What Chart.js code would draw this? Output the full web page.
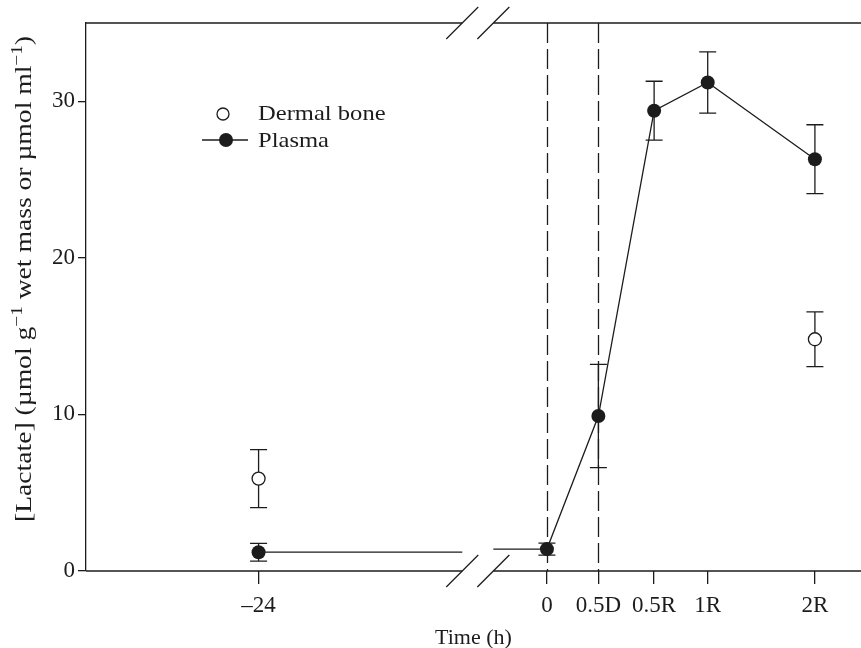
<!DOCTYPE html>
<html>
<head>
<meta charset="utf-8">
<script src="https://cdn.jsdelivr.net/npm/chart.js@4.4.1/dist/chart.umd.min.js"></script>
<style>
  body { margin: 0; background: #fff; }
  canvas { display: block; }
</style>
</head>
<body>
<canvas id="chart" width="861" height="648"></canvas>
<script>
// Time points (x positions on the compressed time axis) and their labels
const tickLabels = ["\u201324", "0", "0.5D", "0.5R", "1R", "2R"]
const xPos = [-2.69, 0, 0.48, 1.0, 1.5, 2.5]

// Plasma lactate, mean and error
const plasma = [1.2, 1.4, 9.9, 29.4, 31.2, 26.3]
const plasmaErr = [0.57, 0.38, 3.3, 1.88, 1.95, 2.2]

// Dermal bone lactate, only at -24 and 2R
const dermalIdx = [0, 5]
const dermal = [5.9, 14.8]
const dermalErr = [1.85, 1.75]

const yTicks = [0, 10, 20, 30]
const breakX = [-0.79, -0.50]   // axis break (left, right)
const dashedAt = [1, 2]         // vertical dashed lines at "0" and "0.5D"

const INK = "#1c1c1c"
const FONT = "'Liberation Serif', 'Times New Roman', serif"

const plasmaPoints = plasma.map((v, i) => ({ x: xPos[i], y: v }))
const dermalPoints = dermal.map((v, i) => ({ x: xPos[dermalIdx[i]], y: v }))
const plasmaLine = [
  { x: xPos[0], y: plasma[0] },
  { x: breakX[0], y: plasma[0] },
  { x: breakX[0], y: null },
  { x: breakX[1], y: plasma[1] },
  ...plasmaPoints.slice(1)
]

// y title pieces, [text, superscript?]
const yTitle = [
  ["[Lactate] (\u00b5mol g", false],
  ["\u22121", true],
  [" wet mass or \u00b5mol ml", false],
  ["\u22121", true],
  [")", false]
]

const decor = {
  id: "decor",
  beforeDatasetsDraw(chart) {
    const { ctx, scales: { x, y } } = chart
    const area = chart.chartArea
    ctx.save()
    ctx.strokeStyle = INK
    ctx.lineWidth = 1.3

    // dashed vertical lines
    ctx.setLineDash([20, 6])
    dashedAt.forEach(i => {
      const px = Math.round(x.getPixelForValue(xPos[i])) + 0.5
      ctx.beginPath()
      ctx.moveTo(px, area.top)
      ctx.lineTo(px, area.bottom)
      ctx.stroke()
    })
    ctx.setLineDash([])

    // error bars
    const bar = (xv, m, e) => {
      const px = x.getPixelForValue(xv)
      const top = y.getPixelForValue(m + e)
      const bot = y.getPixelForValue(m - e)
      ctx.beginPath()
      ctx.moveTo(px, top); ctx.lineTo(px, bot)
      ctx.moveTo(px - 8.5, top); ctx.lineTo(px + 8.5, top)
      ctx.moveTo(px - 8.5, bot); ctx.lineTo(px + 8.5, bot)
      ctx.stroke()
    }
    plasma.forEach((m, i) => bar(xPos[i], m, plasmaErr[i]))
    dermal.forEach((m, i) => bar(xPos[dermalIdx[i]], m, dermalErr[i]))
    ctx.restore()
  },
  afterDraw(chart) {
    const { ctx, scales: { x } } = chart
    const area = chart.chartArea
    const bl = x.getPixelForValue(breakX[0])
    const br = x.getPixelForValue(breakX[1])
    ctx.save()
    ctx.strokeStyle = INK
    ctx.lineWidth = 1.3

    // top and bottom axis lines, interrupted at the break
    ;[area.top, area.bottom].forEach(yy => {
      ctx.beginPath()
      ctx.moveTo(area.left, yy); ctx.lineTo(bl, yy)
      ctx.moveTo(br, yy); ctx.lineTo(area.right, yy)
      ctx.stroke()
      ;[bl, br].forEach(bx => {
        ctx.beginPath()
        ctx.moveTo(bx - 16, yy + 16)
        ctx.lineTo(bx + 16, yy - 16)
        ctx.stroke()
      })
    })

    // legend
    ctx.beginPath()
    ctx.arc(223, 114, 6, 0, Math.PI * 2)
    ctx.fillStyle = "#fff"
    ctx.fill()
    ctx.stroke()
    ctx.beginPath()
    ctx.moveTo(202, 140); ctx.lineTo(248, 140)
    ctx.stroke()
    ctx.beginPath()
    ctx.arc(226, 140, 7, 0, Math.PI * 2)
    ctx.fillStyle = INK
    ctx.fill()

    ctx.save()
    ctx.font = "21px " + FONT
    ctx.textBaseline = "middle"
    ctx.textAlign = "left"
    ctx.translate(258, 0)
    ctx.scale(1.17, 1)
    ctx.fillText("Dermal bone", 0, 114)
    ctx.fillText("Plasma", 0, 141)
    ctx.restore()

    // y axis title, with superscripts, stretched along its length
    ctx.save()
    ctx.translate(31, 279)
    ctx.rotate(-Math.PI / 2)
    ctx.textBaseline = "alphabetic"
    ctx.textAlign = "left"
    const mainF = "23px " + FONT, supF = "16px " + FONT
    const total = yTitle.reduce((w, [t, s]) => {
      ctx.font = s ? supF : mainF
      return w + ctx.measureText(t).width
    }, 0)
    ctx.scale(486 / total, 1)
    let cx = -total / 2
    yTitle.forEach(([t, s]) => {
      ctx.font = s ? supF : mainF
      ctx.fillText(t, cx, s ? -9 : 0)
      cx += ctx.measureText(t).width
    })
    ctx.restore()
    ctx.restore()
  }
}

new Chart(document.getElementById("chart"), {
  type: "scatter",
  data: {
    datasets: [
      {
        label: "Plasma",
        data: plasmaPoints,
        pointRadius: 7,
        pointHoverRadius: 7,
        pointBackgroundColor: INK,
        pointBorderColor: INK,
        pointBorderWidth: 0,
        showLine: false,
        order: 1
      },
      {
        label: "Dermal bone",
        data: dermalPoints,
        pointRadius: 6.5,
        pointHoverRadius: 6.5,
        pointBackgroundColor: "#fff",
        pointBorderColor: INK,
        pointBorderWidth: 1.3,
        showLine: false,
        order: 2
      },
      {
        label: "line",
        data: plasmaLine,
        showLine: true,
        spanGaps: false,
        pointRadius: 0,
        borderColor: INK,
        borderWidth: 1.3,
        order: 3
      }
    ]
  },
  options: {
    responsive: false,
    devicePixelRatio: 1,
    animation: false,
    layout: {
      autoPadding: false,
      padding: { top: 23, right: 0, bottom: 0, left: 0 }
    },
    plugins: {
      legend: { display: false },
      tooltip: { enabled: false }
    },
    scales: {
      x: {
        type: "linear",
        min: -4.3,
        max: 2.93,
        afterFit: s => {
          s.height = 77
          s.paddingLeft = 0
          s.paddingRight = 0
        },
        afterBuildTicks: s => { s.ticks = xPos.map(v => ({ value: v })) },
        grid: {
          display: true,
          drawOnChartArea: false,
          drawTicks: true,
          tickLength: 13,
          color: INK,
          lineWidth: 1.3
        },
        border: { display: false },
        ticks: {
          autoSkip: false,
          maxRotation: 0,
          padding: 8,
          color: INK,
          font: { size: 23, family: FONT },
          callback: (v, i) => tickLabels[i]
        },
        title: {
          display: true,
          text: "Time (h)",
          color: INK,
          font: { size: 22, family: FONT },
          padding: { top: 0, bottom: -3 }
        }
      },
      y: {
        min: 0,
        max: 35,
        afterFit: s => { s.width = 86 },
        afterBuildTicks: s => { s.ticks = yTicks.map(v => ({ value: v })) },
        grid: {
          display: true,
          drawOnChartArea: false,
          drawTicks: true,
          tickLength: 8,
          color: INK,
          lineWidth: 1.3
        },
        border: { display: true, color: INK, width: 1.3 },
        ticks: {
          padding: 3,
          color: INK,
          font: { size: 23, family: FONT }
        }
      }
    }
  },
  plugins: [decor]
})
</script>
</body>
</html>
